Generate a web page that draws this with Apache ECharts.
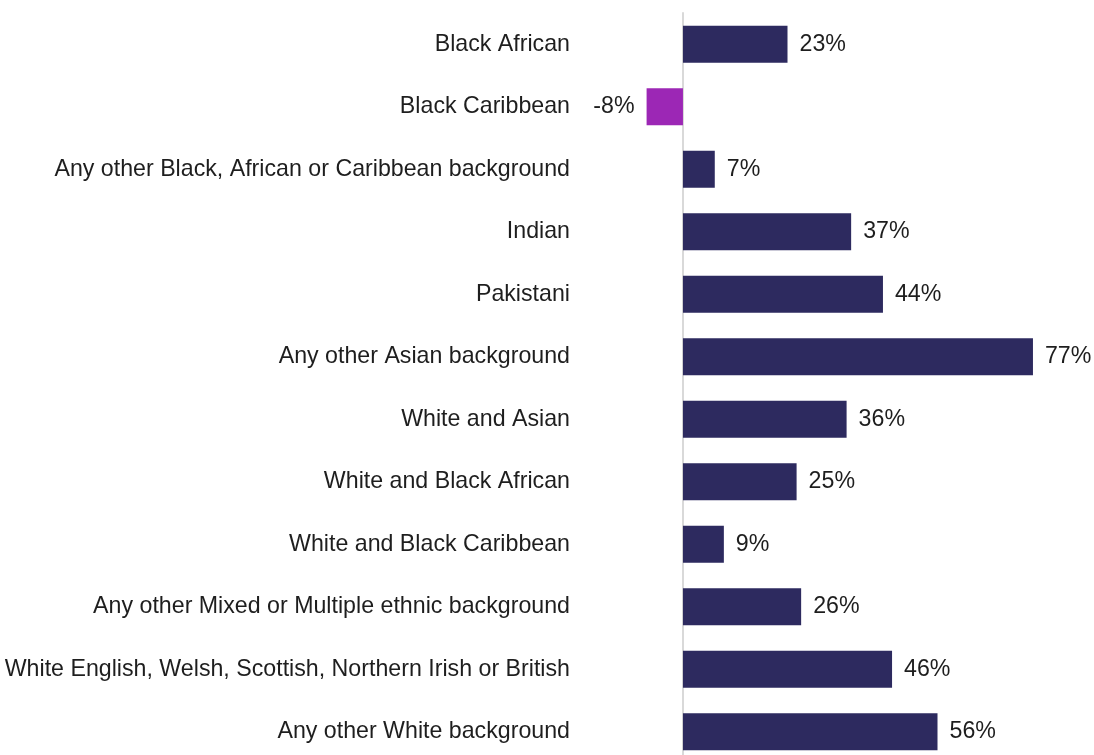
<!DOCTYPE html>
<html>
<head>
<meta charset="utf-8">
<script src="https://cdn.jsdelivr.net/npm/echarts@6/dist/echarts.min.js"></script>
<style>
html,body{margin:0;padding:0;background:#fff;}
#chart{width:1094px;height:755px;}
</style>
</head>
<body>
<div id="chart"></div>
<script>
const categories = [
  "Black African",
  "Black Caribbean",
  "Any other Black, African or Caribbean background",
  "Indian",
  "Pakistani",
  "Any other Asian background",
  "White and Asian",
  "White and Black African",
  "White and Black Caribbean",
  "Any other Mixed or Multiple ethnic background",
  "White English, Welsh, Scottish, Northern Irish or British",
  "Any other White background"
];
const values = [23, -8, 7, 37, 44, 77, 36, 25, 9, 26, 46, 56];

const posColor = '#2d2a5f';
const negColor = '#9c27b5';
const FONT = "'Liberation Sans', Arial, Helvetica, sans-serif";

const chart = echarts.init(document.getElementById('chart'), null, {renderer: 'canvas'});
chart.setOption({
  animation: false,
  backgroundColor: '#fff',
  grid: {left: 637.5, top: 13, width: 409.1, height: 750, containLabel: false, outerBoundsMode: 'none'},
  xAxis: {
    type: 'value', min: -10, max: 80,
    show: false
  },
  yAxis: {
    type: 'category',
    data: categories,
    inverse: true,
    axisLine: {show: true, onZero: true, lineStyle: {color: '#d9d9d9', width: 2}},
    axisTick: {show: false},
    axisLabel: {
      margin: 67.5,
      fontFamily: FONT,
      fontSize: 23.2,
      padding: [3, 0, 0, 0],
      color: '#1e1e1e'
    }
  },
  series: [{
    type: 'bar',
    barCategoryGap: '41%',
    data: values.map(v => ({
      value: v,
      itemStyle: {color: v < 0 ? negColor : posColor},
      label: {position: v < 0 ? 'left' : 'right'}
    })),
    label: {
      show: true,
      distance: 12,
      formatter: p => p.value + '%',
      fontFamily: FONT,
      fontSize: 23.2,
      padding: [3, 0, 0, 0],
      color: '#1e1e1e'
    }
  }]
});
</script>
</body>
</html>
